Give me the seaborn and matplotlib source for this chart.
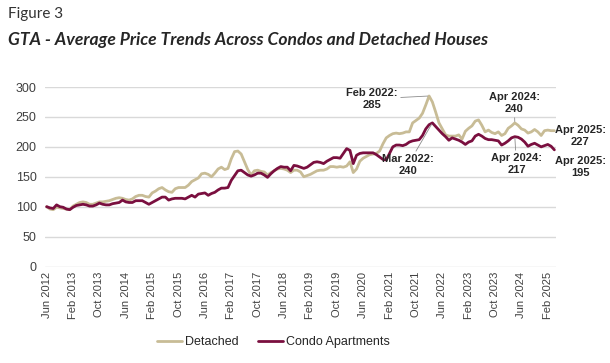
import pandas as pd
import matplotlib
matplotlib.use('Agg')
import matplotlib.pyplot as plt
import seaborn as sns

# Monthly index values, Jun 2012 .. Apr 2025
start = '2012-06'
n_months = 155

detached = [
    100, 96, 95, 99, 98, 97, 96,                                   # 2012 Jun-Dec
    95, 101, 104, 107, 108, 107, 104, 104, 106, 108, 108, 109,      # 2013
    110, 112, 114, 115, 114, 112, 111, 113, 117, 119, 119, 117,     # 2014
    116, 123, 126, 130, 132, 128, 125, 124, 130, 132, 132, 132,     # 2015
    136, 142, 145, 148, 155, 156, 154, 150, 156, 163, 166, 162,     # 2016
    164, 180, 192, 193, 188, 175, 162, 153, 160, 161, 159, 158,     # 2017
    153, 157, 160, 163, 164, 163, 161, 157, 161, 161, 158, 150,     # 2018
    152, 154, 157, 160, 161, 161, 163, 167, 167, 166, 167, 166,     # 2019
    168, 175, 157, 163, 176, 181, 184, 187, 188, 189, 193, 205,     # 2020
    215, 219, 222, 223, 222, 223, 225, 225, 240, 244, 248, 256,     # 2021
    270, 285, 275, 258, 240, 230, 220, 218, 218, 218, 220, 213,     # 2022
    226, 231, 235, 243, 245, 236, 225, 228, 224, 222, 225, 219,     # 2023
    222, 231, 235, 240, 236, 230, 228, 223, 225, 229, 225, 219,     # 2024
    227, 228, 227, 227,                                             # 2025 Jan-Apr
]

condo = [
    100, 98, 97, 103, 100, 99, 96,
    95, 99, 102, 103, 104, 103, 101, 101, 103, 106, 104, 103,
    103, 105, 106, 107, 111, 108, 107, 107, 110, 110, 110, 107,
    104, 107, 110, 113, 116, 116, 111, 113, 114, 114, 114, 113,
    116, 119, 116, 121, 122, 123, 119, 122, 124, 128, 131, 131,
    132, 144, 152, 160, 161, 157, 153, 151, 153, 156, 156, 153,
    149, 155, 160, 164, 167, 166, 166, 160, 169, 168, 166, 164,
    166, 170, 174, 175, 174, 172, 176, 179, 182, 182, 181, 189,
    197, 194, 172, 186, 189, 190, 190, 190, 190, 187, 183, 179,
    178, 189, 200, 203, 203, 202, 204, 208, 210, 211, 212, 219,
    230, 237, 240, 234, 228, 222, 217, 211, 215, 213, 211, 208,
    204, 208, 210, 218, 221, 218, 214, 212, 212, 211, 210, 203,
    206, 210, 215, 217, 216, 213, 208, 201, 204, 206, 203, 200,
    202, 204, 201, 195,
]

series_names = ['Detached', 'Condo Apartments']
colors = ['#C8BC96', '#7A0F3F']

months = pd.period_range(start, periods=n_months, freq='M')
month_labels = [p.strftime('%b %Y') for p in months]

df = pd.DataFrame({
    'm': list(range(n_months)) * 2,
    'value': detached + condo,
    'series': [series_names[0]] * n_months + [series_names[1]] * n_months,
})

sns.set_theme(style='white')
plt.rcParams['font.family'] = ['Liberation Sans', 'DejaVu Sans']

fig = plt.figure(figsize=(6.1, 3.63), dpi=100)
ax = fig.add_axes([0.0738, 0.2658, 0.8377, 0.4945])

sns.lineplot(data=df, x='m', y='value', hue='series', palette=colors,
             linewidth=2.0, ax=ax, legend=True)

ax.set_xlim(-0.5, 154.5)
ax.set_ylim(0, 300)
ax.set_yticks(range(0, 301, 50))
ax.set_xticks(range(0, n_months, 8))
ax.set_xticklabels([month_labels[i] for i in range(0, n_months, 8)], rotation=90)
ax.tick_params(axis='x', labelsize=8, colors='#404040', length=0, pad=4)
ax.tick_params(axis='y', labelsize=9, colors='#404040', length=0, pad=6)
ax.grid(axis='y', color='#d9d9d9', linewidth=1)
for s in ax.spines.values():
    s.set_visible(False)
ax.set_xlabel('')
ax.set_ylabel('')

handles, labels = ax.get_legend_handles_labels()
ax.legend(handles, labels, loc='center', bbox_to_anchor=(0.448, 0.058),
          bbox_transform=fig.transFigure, ncol=2, frameon=False, fontsize=9,
          handlelength=2.0, handletextpad=0.2, columnspacing=1.6)

# annotations
lead = dict(arrowstyle='-', color='#8c8c8c', lw=0.6, shrinkA=0, shrinkB=1)
txt = dict(ha='center', va='center', fontsize=8, fontweight='bold', color='#262626',
           linespacing=1.25)
ax.annotate('Feb 2022:\n285', xy=(116, detached[116]), xytext=(98.6, 280),
            arrowprops=lead, **txt)
ax.annotate('Mar 2022:\n240', xy=(117, condo[117]), xytext=(109.5, 169),
            arrowprops=lead, **txt)
ax.annotate('Apr 2024:\n240', xy=(142, detached[142]), xytext=(141.8, 272.5),
            arrowprops=lead, **txt)
ax.annotate('Apr 2024:\n217', xy=(142, condo[142]), xytext=(142.5, 170.5),
            arrowprops=lead, **txt)
ax.text(161.8, 218, 'Apr 2025:\n227', **txt)
ax.text(161.8, 165.5, 'Apr 2025:\n195', **txt)

fig.text(0.013, 0.962, 'Figure 3', fontsize=11, color='#333333',
         family=['Lato', 'DejaVu Sans'], va='center')
fig.text(0.013, 0.89, 'GTA - Average Price Trends Across Condos and Detached Houses',
         fontsize=12.6, fontweight='bold', fontstyle='italic', color='#262626',
         family=['Lato', 'DejaVu Sans'], va='center')

fig.savefig('out.png', dpi=100)
